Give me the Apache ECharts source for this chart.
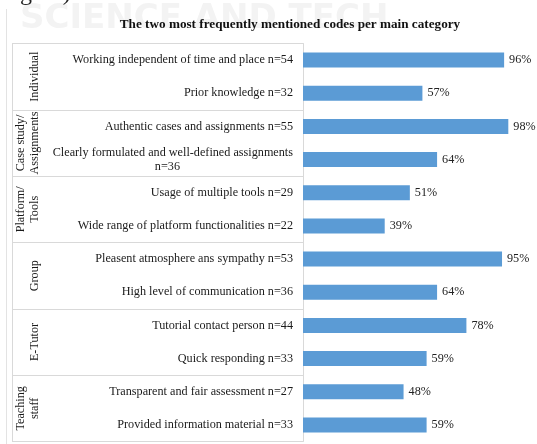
<!DOCTYPE html>
<html>
<head>
<meta charset="utf-8">
<script src="https://cdn.jsdelivr.net/npm/echarts@6/dist/echarts.min.js"></script>
<style>
  html, body { margin: 0; padding: 0; background: #fff; }
  #chart { width: 537px; height: 444px; }
</style>
</head>
<body>
<div id="chart"></div>
<script>
// main categories (two codes each), top to bottom
const groups = ['Individual', 'Case study/\nAssignments', 'Platform/\nTools', 'Group', 'E-Tutor', 'Teaching\nstaff'];

const codes = [
  'Working independent of time and place n=54',
  'Prior knowledge n=32',
  'Authentic cases and assignments n=55',
  'Clearly formulated and well-defined assignments\nn=36',
  'Usage of multiple tools n=29',
  'Wide range of platform functionalities n=22',
  'Pleasent atmosphere ans sympathy n=53',
  'High level of communication n=36',
  'Tutorial contact person n=44',
  'Quick responding n=33',
  'Transparent and fair assessment n=27',
  'Provided information material n=33'
];

// share of mentions in %
const shares = [96, 57, 98, 64, 51, 39, 95, 64, 78, 59, 48, 59];

const serif = '"Liberation Serif", "Times New Roman", serif';
const gridColor = '#d9d9d9';

const chart = echarts.init(document.getElementById('chart'));

chart.setOption({
  backgroundColor: '#fff',
  animation: false,
  title: {
    text: 'The two most frequently mentioned codes per main category',
    left: 285,
    textAlign: 'center',
    top: 13,
    textStyle: { fontFamily: serif, fontSize: 13.2, fontWeight: 'bold', color: '#111' }
  },
  graphic: [
    {
      type: 'text', left: 20, top: 2, z: -10, silent: true,
      style: { text: 'SCIENCE AND TECH', font: 'bold 34px "DejaVu Sans"', fill: '#f3f3f3' }
    },
    {
      type: 'text', left: 20, top: -18,
      style: { text: 'gure)', font: '24px "Liberation Serif"', fill: '#222' }
    },
    {
      type: 'line', silent: true,
      shape: { x1: 6.5, y1: 9, x2: 6.5, y2: 444 },
      style: { stroke: '#e3e3e3', lineWidth: 1 }
    }
  ],
  grid: { left: 303, right: 24.5, top: 43.5, bottom: 2.5 },
  xAxis: {
    type: 'value',
    min: 0,
    max: 100,
    show: false
  },
  yAxis: [
    {
      type: 'category',
      data: codes,
      inverse: true,
      axisLine: { show: false },
      axisTick: { show: false },
      axisLabel: {
        margin: 10,
        fontFamily: serif,
        fontSize: 12.2,
        color: '#1a1a1a',
        formatter: (v) => {
          const parts = v.split('\n');
          if (parts.length === 1) return v;
          return '{a|' + parts[0] + '}\n{b|' + parts[1] + '}';
        },
        rich: {
          a: { fontFamily: serif, fontSize: 12.2, color: '#1a1a1a', lineHeight: 14 },
          b: { fontFamily: serif, fontSize: 12.2, color: '#1a1a1a', lineHeight: 14, padding: [0, 113, 0, 0] }
        }
      }
    },
    {
      // group column: separators + rotated group names
      type: 'category',
      data: groups,
      inverse: true,
      position: 'left',
      axisLine: { show: true, lineStyle: { color: gridColor, width: 1 } },
      axisTick: { show: true, length: 291, interval: 0, lineStyle: { color: gridColor, width: 1 } },
      axisLabel: {
        rotate: 90,
        margin: 261,
        interval: 0,
        fontFamily: serif,
        fontSize: 12.2,
        lineHeight: 14,
        color: '#1a1a1a'
      }
    },
    {
      // left border of the label table
      type: 'category',
      data: groups,
      inverse: true,
      position: 'left',
      offset: 291,
      axisLine: { show: true, lineStyle: { color: gridColor, width: 1 } },
      axisTick: { show: false },
      axisLabel: { show: false }
    }
  ],
  series: [{
    type: 'bar',
    data: shares,
    barWidth: 15,
    itemStyle: { color: '#5b9bd5' },
    label: {
      show: true,
      position: 'right',
      distance: 5,
      formatter: '{c}%',
      fontFamily: serif,
      fontSize: 12.2,
      color: '#222'
    }
  }]
});
</script>
</body>
</html>
